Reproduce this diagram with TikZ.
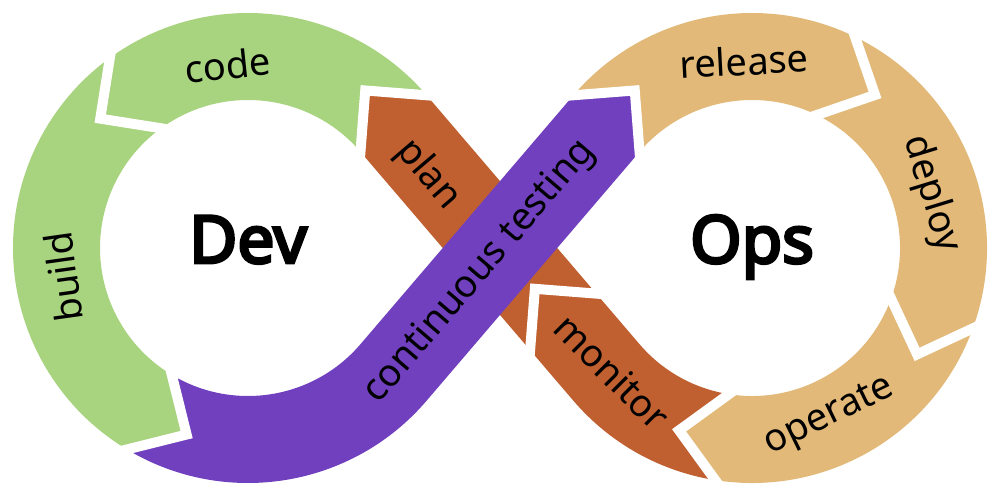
\documentclass[tikz,border=0pt]{standalone}
\usepackage{fontspec}
\setmainfont{Noto Sans}
\newfontfamily\heavyfont{Noto Sans}[FakeBold=4.5]
\usetikzlibrary{calc}

\definecolor{devgreen}{RGB}{168,211,127}
\definecolor{opstan}{RGB}{226,185,120}
\definecolor{planred}{RGB}{192,96,48}
\definecolor{testpurple}{RGB}{112,64,190}

\tikzset{
  gap/.style={draw=white, line width=10pt, line join=miter},
  stage/.style={font=\fontsize{38}{40}\selectfont, inner sep=0pt},
  side/.style={font=\heavyfont\fontsize{66}{70}\selectfont, anchor=base},
}

\begin{document}
\begin{tikzpicture}[x=1pt, y=1pt]
\useasboundingbox (-248,-253) rectangle (752,248);
\coordinate (L) at (0,0);
\coordinate (R) at (504,0);
\coordinate (cut) at (-49.46:261);

% Dev ring
\fill[devgreen] ($(L)+(40.54:235)$) arc[start angle=40.54, end angle=126, radius=235]
  -- ($(L)+(126:191.5)+(216:43.5)$) -- ($(L)+(126:148)$)
  arc[start angle=126, end angle=40.54, radius=148]
  -- ($(L)+(40.54:191.5)+(130.54:43.5)$) -- cycle;
\fill[devgreen] ($(L)+(126:235)$) arc[start angle=126, end angle=239, radius=235]
  -- ($(L)+(239:191.5)+(329:43.5)$) -- ($(L)+(239:148)$)
  arc[start angle=239, end angle=126, radius=148]
  -- ($(L)+(126:191.5)+(216:43.5)$) -- cycle;

% Ops ring
\fill[opstan] ($(R)+(139.46:235)$) arc[start angle=139.46, end angle=64, radius=235]
  -- ($(R)+(64:191.5)+(-26:43.5)$) -- ($(R)+(64:148)$)
  arc[start angle=64, end angle=139.46, radius=148]
  -- ($(R)+(139.46:191.5)+(49.46:43.5)$) -- cycle;
\fill[opstan] ($(R)+(64:235)$) arc[start angle=64, end angle=-20, radius=235]
  -- ($(R)+(-20:191.5)+(-110:43.5)$) -- ($(R)+(-20:148)$)
  arc[start angle=-20, end angle=64, radius=148]
  -- ($(R)+(64:191.5)+(-26:43.5)$) -- cycle;
\fill[opstan] ($(R)+(-20:235)$) arc[start angle=-20, end angle=-99, radius=235]
  -- ($(R)+(-99:191.5)+(171:43.5)$) -- ($(R)+(-99:148)$)
  arc[start angle=-99, end angle=-20, radius=148]
  -- ($(R)+(-20:191.5)+(-110:43.5)$) -- cycle;

% plan and monitor
\fill[planred] ($(R)+(-99:235)$) arc[start angle=-99, end angle=-139.46, radius=235]
  -- ($(cut)+(40.54:148)$) -- ($(cut)+(40.54:191.5)+(130.54:43.5)$)
  -- ($(cut)+(40.54:235)$) -- ($(R)+(-139.46:148)$)
  arc[start angle=-139.46, end angle=-99, radius=148]
  -- ($(R)+(-99:191.5)+(171:43.5)$) -- cycle;
\fill[planred] ($(L)+(40.54:148)$) -- ($(L)+(40.54:191.5)+(130.54:43.5)$)
  -- ($(L)+(40.54:235)$) -- ($(cut)+(40.54:235)$)
  -- ($(cut)+(40.54:191.5)+(130.54:43.5)$) -- ($(cut)+(40.54:148)$) -- cycle;

% continuous testing
\fill[testpurple] ($(L)+(239:235)$) arc[start angle=239, end angle=319.46, radius=235]
  -- ($(R)+(139.46:148)$) -- ($(R)+(139.46:191.5)+(49.46:43.5)$)
  -- ($(R)+(139.46:235)$) -- ($(L)+(319.46:148)$)
  arc[start angle=319.46, end angle=239, radius=148]
  -- ($(L)+(239:191.5)+(329:43.5)$) -- cycle;

% white cuts between the stages
\foreach \c/\a/\t in {L/40.54/130.54, L/126/216, L/239/329, R/139.46/49.46,
                      R/64/-26, R/-20/-110, R/-99/171, cut/40.54/130.54}
  \draw[gap] ($(\c)+(\a:136)+(\t:-12)$) -- ($(\c)+(\a:191.5)+(\t:43.5)$)
    -- ($(\c)+(\a:247)+(\t:-12)$);

\node[stage, rotate=6] (code) at (-20,183) {code};
\node[stage, rotate=98] (build) at (-185,-29) {build};
\node[stage, rotate=-49.5] (plan) at (180,73) {plan};
\node[stage, rotate=49.5] (testing) at (232,-24) {continuous testing};
\node[stage, rotate=3] (release) at (496,187) {release};
\node[stage, rotate=-73] (deploy) at (683,54) {deploy};
\node[stage, rotate=26] (operate) at (582,-169) {operate};
\node[stage, rotate=-45] (monitor) at (364,-124) {monitor};

\node[side] (dev) at (0,-15) {Dev};
\node[side] (ops) at (504,-15) {Ops};
\end{tikzpicture}
\end{document}
